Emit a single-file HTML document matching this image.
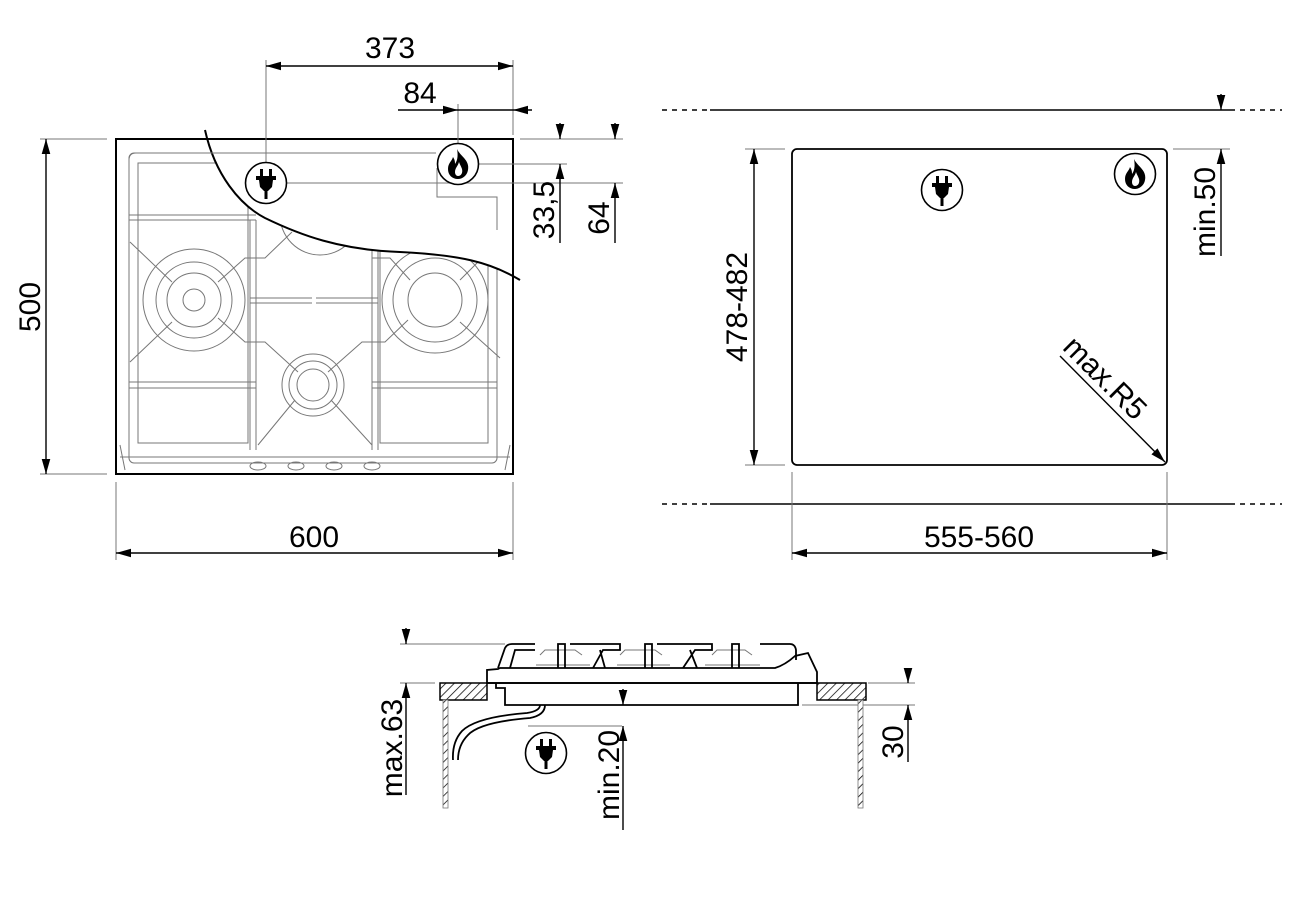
<!DOCTYPE html>
<html><head><meta charset="utf-8"><style>
html,body{margin:0;padding:0;background:#fff;}
svg{display:block}
text{font-family:"Liberation Sans",Arial,sans-serif;font-size:30px;fill:#000}
</style></head><body>
<svg width="1300" height="900" viewBox="0 0 1300 900" xmlns="http://www.w3.org/2000/svg">
<defs>
<marker id="a" viewBox="0 0 14 8" refX="14" refY="4" markerWidth="15" markerHeight="9" markerUnits="userSpaceOnUse" orient="auto-start-reverse"><path d="M0,0 L14,4 L0,8 z" fill="#000"/></marker>
<symbol id="plug" viewBox="-22 -22 44 44">
<circle r="20.5" fill="#fff" stroke="#000" stroke-width="1.6"/>
<rect x="-6" y="-14" width="3" height="7" fill="#000"/><rect x="3" y="-14" width="3" height="7" fill="#000"/>
<rect x="-10" y="-7" width="20" height="4" fill="#000"/>
<path d="M-7,-3 L7,-3 L6,4 L2,8 L-2,8 L-6,4z" fill="#000"/>
<rect x="-1.5" y="7" width="3" height="9" fill="#000"/>
</symbol>
<symbol id="flame" viewBox="-22 -22 44 44">
<circle r="20.5" fill="#fff" stroke="#000" stroke-width="1.6"/>
<path d="M-1,-15 C2,-8 12,-4 10,6 C9,12 4,15 0,15 C-6,15 -10,11 -10,5 C-10,-1 -6,-3 -5,-7 C-3,-4 -3,-2 -3,0 C0,-4 0,-10 -1,-15z M0,12 C3,12 5,9 4,5 C3,2 2,1 1,-2 C0,2 -3,4 -3,8 C-3,10 -2,12 0,12z" fill="#000" fill-rule="evenodd"/>
</symbol>
<pattern id="h" width="6" height="6" patternUnits="userSpaceOnUse" patternTransform="rotate(45)"><rect width="6" height="6" fill="#fff"/><line x1="0" y1="0" x2="0" y2="6" stroke="#000" stroke-width="1.5"/></pattern>
</defs>

<!-- ===== TOP-LEFT: hob plan ===== -->
<g fill="none" stroke="#777" stroke-width="1">
<rect x="129" y="153" width="368" height="310" rx="5"/>
<rect x="138" y="163" width="110" height="280"/>
<rect x="380" y="163" width="108" height="280"/>
<line x1="129" y1="215" x2="256" y2="215"/><line x1="129" y1="220" x2="256" y2="220"/>
<line x1="129" y1="382" x2="256" y2="382"/><line x1="129" y1="388" x2="256" y2="388"/>
<line x1="372" y1="382" x2="497" y2="382"/><line x1="372" y1="388" x2="497" y2="388"/>
<line x1="250" y1="298" x2="312" y2="298"/><line x1="250" y1="303" x2="312" y2="303"/>
<line x1="316" y1="298" x2="378" y2="298"/><line x1="316" y1="303" x2="378" y2="303"/>
<line x1="250" y1="220" x2="250" y2="450"/><line x1="256" y1="220" x2="256" y2="450"/>
<line x1="372" y1="250" x2="372" y2="450"/><line x1="378" y1="250" x2="378" y2="450"/>
<circle cx="194" cy="300" r="51"/><circle cx="194" cy="300" r="38"/><circle cx="194" cy="300" r="27"/><circle cx="194" cy="300" r="11"/>
<circle cx="435" cy="300" r="53"/><circle cx="435" cy="300" r="42"/><circle cx="435" cy="300" r="27"/>
<circle cx="313" cy="385" r="31"/><circle cx="313" cy="385" r="24"/><circle cx="313" cy="385" r="16"/>
<circle cx="320" cy="215" r="40"/>
<path d="M130,242 L172,282 M130,362 L172,322 M218,282 L245,258 L265,258 L292,232 M218,318 L245,342 L265,342 L298,372 M328,372 L362,342 L385,342 L408,320 M460,280 L478,262 M460,322 L500,358 M410,280 L390,258 L372,258 M295,400 L258,445 M331,400 L372,445"/>
<path d="M120,445 L125,470 M510,445 L505,470 M120,457 L510,457"/>
<ellipse cx="258" cy="466" rx="8" ry="4"/><ellipse cx="296" cy="466" rx="8" ry="4"/><ellipse cx="334" cy="466" rx="8" ry="4"/><ellipse cx="372" cy="466" rx="8" ry="4"/>
</g>
<path d="M205,130 C215,175 240,205 265,218 C300,235 340,250 400,252 C460,255 490,262 520,280 L520,141 L205,141z" fill="#fff"/>
<rect x="116" y="139" width="397" height="335" fill="none" stroke="#000" stroke-width="2"/>
<path d="M205,130 C215,175 240,205 265,218 C300,235 340,250 400,252 C460,255 490,262 520,280" fill="none" stroke="#000" stroke-width="2"/>
<g fill="none" stroke="#777" stroke-width="1">
<path d="M129,170 L129,160 Q129,153 136,153 L436,153"/>
<path d="M437,168 L437,197 L497,197 L497,230"/>
<line x1="287" y1="183" x2="623" y2="183"/>
<line x1="479" y1="164" x2="567" y2="164"/>
<line x1="520" y1="139" x2="623" y2="139"/>
<line x1="266" y1="60" x2="266" y2="162"/>
<line x1="513" y1="60" x2="513" y2="135"/>
<line x1="458" y1="104" x2="458" y2="143"/>
<line x1="40" y1="139" x2="107" y2="139"/><line x1="40" y1="474" x2="107" y2="474"/>
<line x1="116" y1="482" x2="116" y2="560"/><line x1="513" y1="482" x2="513" y2="560"/>
</g>
<use href="#plug" x="244" y="161" width="44" height="44"/>
<use href="#flame" x="436" y="142" width="44" height="44"/>
<g stroke="#000" stroke-width="1.4" fill="none">
<line x1="266" y1="66" x2="513" y2="66" marker-start="url(#a)" marker-end="url(#a)"/>
<line x1="398" y1="110" x2="458" y2="110" marker-end="url(#a)"/>
<line x1="458" y1="110" x2="513" y2="110"/>
<line x1="532" y1="110" x2="513" y2="110" marker-end="url(#a)"/>
<line x1="560" y1="123" x2="560" y2="139" marker-end="url(#a)"/>
<line x1="560" y1="243" x2="560" y2="164" marker-end="url(#a)"/>
<line x1="615" y1="123" x2="615" y2="139" marker-end="url(#a)"/>
<line x1="615" y1="243" x2="615" y2="183" marker-end="url(#a)"/>
<line x1="46" y1="139" x2="46" y2="474" marker-start="url(#a)" marker-end="url(#a)"/>
<line x1="116" y1="553" x2="513" y2="553" marker-start="url(#a)" marker-end="url(#a)"/>
</g>
<text x="390" y="58" text-anchor="middle">373</text>
<text x="420" y="103" text-anchor="middle">84</text>
<text transform="translate(554,210) rotate(-90)" text-anchor="middle">33,5</text>
<text transform="translate(609,218) rotate(-90)" text-anchor="middle">64</text>
<text transform="translate(40,307) rotate(-90)" text-anchor="middle">500</text>
<text x="314" y="547" text-anchor="middle">600</text>

<!-- ===== RIGHT: cut-out ===== -->
<g stroke="#000" stroke-width="1.5">
<line x1="710" y1="110" x2="1230" y2="110"/><line x1="710" y1="504" x2="1230" y2="504"/>
<line x1="662" y1="110" x2="710" y2="110" stroke-dasharray="5,5"/><line x1="1230" y1="110" x2="1282" y2="110" stroke-dasharray="5,5"/>
<line x1="662" y1="504" x2="710" y2="504" stroke-dasharray="5,5"/><line x1="1230" y1="504" x2="1282" y2="504" stroke-dasharray="5,5"/>
</g>
<rect x="792" y="149" width="375" height="316" rx="5" fill="none" stroke="#000" stroke-width="1.8"/>
<use href="#plug" x="920" y="168" width="44" height="44"/>
<use href="#flame" x="1113" y="152" width="44" height="44"/>
<g fill="none" stroke="#777" stroke-width="1">
<line x1="745" y1="149" x2="785" y2="149"/><line x1="745" y1="465" x2="785" y2="465"/>
<line x1="792" y1="472" x2="792" y2="560"/><line x1="1167" y1="472" x2="1167" y2="560"/>
<line x1="1173" y1="149" x2="1230" y2="149"/>
</g>
<g stroke="#000" stroke-width="1.4" fill="none">
<line x1="754" y1="149" x2="754" y2="465" marker-start="url(#a)" marker-end="url(#a)"/>
<line x1="792" y1="553" x2="1167" y2="553" marker-start="url(#a)" marker-end="url(#a)"/>
<line x1="1221" y1="94" x2="1221" y2="110" marker-end="url(#a)"/>
<line x1="1221" y1="256" x2="1221" y2="149" marker-end="url(#a)"/>
<line x1="1060" y1="356" x2="1165" y2="462" marker-end="url(#a)"/>
</g>
<text transform="translate(747,307) rotate(-90)" text-anchor="middle">478-482</text>
<text x="979" y="547" text-anchor="middle">555-560</text>
<text transform="translate(1215,212) rotate(-90)" text-anchor="middle">min.50</text>
<text transform="translate(1098,385) rotate(45)" text-anchor="middle">max.R5</text>

<!-- ===== BOTTOM: side view ===== -->
<g fill="none" stroke="#777" stroke-width="1">
<line x1="400" y1="644" x2="505" y2="644"/>
<line x1="400" y1="683" x2="435" y2="683"/>
<line x1="868" y1="683" x2="915" y2="683"/>
<line x1="802" y1="705" x2="915" y2="705"/>
<line x1="528" y1="726" x2="622" y2="726"/>
<path d="M540,655 L545,650 L575,650 L582,655 M620,655 L625,650 L655,650 L662,655 M712,655 L717,650 L745,650 L752,655"/>
<path d="M536,665 L590,665 M617,665 L670,665 M705,665 L760,665"/>
</g>
<rect x="440" y="683" width="47" height="17" fill="url(#h)" stroke="#000" stroke-width="1.5"/>
<rect x="817" y="683" width="49" height="17" fill="url(#h)" stroke="#000" stroke-width="1.5"/>
<rect x="443" y="700" width="5" height="108" fill="url(#h)" stroke="#777" stroke-width="0.8"/>
<rect x="858" y="700" width="5" height="108" fill="url(#h)" stroke="#777" stroke-width="0.8"/>
<g fill="none" stroke="#000" stroke-width="1.8">
<path d="M487,683 L487,670 L498,669 L500,668 L775,668 Q785,665 795,656 L808,653 L817,672 L817,683 Z"/>
<line x1="487" y1="683" x2="817" y2="683"/>
<path d="M496,683 L496,688 L505,688 L505,705 L798,705 L798,683"/>
<path d="M498,668 L505,648 Q507,644 512,644 L535,644 M510,668 L515,650 L535,650"/>
<path d="M558,668 L558,644 L565,644 L565,668 M570,644 L620,644 L620,650 L603,650 L593,668 M600,650 L605,668"/>
<path d="M645,668 L645,644 L652,644 L652,668 M657,644 L712,644 L712,650 L695,650 L683,668 M690,650 L697,668"/>
<path d="M732,668 L732,644 L739,644 L739,668 M760,644 L790,644 Q795,644 796,650 L796,660"/>
<path d="M545,705 Q545,715 530,718 Q480,722 468,735 Q458,745 458,760"/>
<path d="M540,705 Q540,711 527,713 Q476,717 462,731 Q452,742 453,760"/>
</g>
<use href="#plug" x="524" y="731" width="44" height="44"/>
<g stroke="#000" stroke-width="1.4" fill="none">
<line x1="406" y1="628" x2="406" y2="644" marker-end="url(#a)"/>
<line x1="406" y1="795" x2="406" y2="683" marker-end="url(#a)"/>
<line x1="623" y1="689" x2="623" y2="705" marker-end="url(#a)"/>
<line x1="623" y1="830" x2="623" y2="726" marker-end="url(#a)"/>
<line x1="908" y1="668" x2="908" y2="683" marker-end="url(#a)"/>
<line x1="908" y1="762" x2="908" y2="705" marker-end="url(#a)"/>
</g>
<text transform="translate(402,748) rotate(-90)" text-anchor="middle">max.63</text>
<text transform="translate(619,775) rotate(-90)" text-anchor="middle">min.20</text>
<text transform="translate(903,742) rotate(-90)" text-anchor="middle">30</text>
</svg>
</body></html>
